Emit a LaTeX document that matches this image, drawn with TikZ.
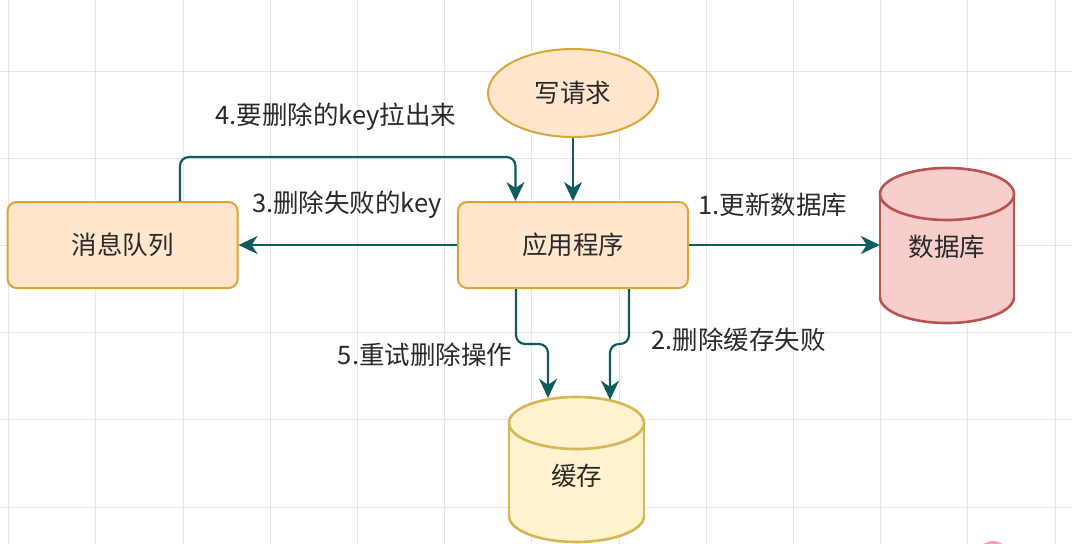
\documentclass[tikz,border=0pt]{standalone}
\usepackage{fontspec}
\setmainfont{Noto Sans CJK SC}
\usetikzlibrary{arrows.meta,calc,shapes.geometric}
\definecolor{boxfill}{HTML}{FFE6CC}
\definecolor{boxline}{HTML}{DCA53A}
\definecolor{cachefill}{HTML}{FFF2CC}
\definecolor{cacheline}{HTML}{D6B656}
\definecolor{dbfill}{HTML}{F8CECC}
\definecolor{dbline}{HTML}{B85450}
\definecolor{arrc}{HTML}{0F5C5E}
\definecolor{gridc}{HTML}{E6E6E6}
\definecolor{txtc}{HTML}{2A2A2A}
\definecolor{pinkc}{HTML}{F5A3A3}
\tikzset{
  every node/.style={font=\fontsize{25.5}{30}\selectfont, text=txtc},
  procbox/.style={draw=boxline, fill=boxfill, line width=2pt, rounded corners=9pt,
    minimum width=230pt, minimum height=86pt, inner sep=0pt},
  reqshape/.style={ellipse, draw=boxline, fill=boxfill, line width=2pt,
    minimum width=170pt, minimum height=88pt, inner sep=0pt},
  cylnode/.style={minimum width=134pt, minimum height=158pt, inner sep=0pt},
  lbl/.style={inner sep=0pt},
  conn/.style={draw=arrc, line width=2.2pt, rounded corners=9pt,
    -{Stealth[length=19pt,width=18pt,inset=6pt]}},
}
\begin{document}
\begin{tikzpicture}[x=1pt,y=-1pt]
\useasboundingbox (0,0) rectangle (1072,544);
\fill[white] (0,0) rectangle (1072,544);
% grid
\foreach \k in {0,...,12}{\draw[gridc,line width=1pt] ({8.6+87.2*\k},0) -- ({8.6+87.2*\k},544);}
\foreach \k in {0,...,5}{\draw[gridc,line width=1pt] (0,{71+87.2*\k}) -- (1072,{71+87.2*\k});}
% pink mark
\fill[pinkc] (993,557) circle (16pt);

% database cylinder
\fill[dbfill] (880,194) rectangle (1014,297);
\fill[dbfill] (947,297) ellipse [x radius=67, y radius=26];
\begin{scope}
  \clip (870,297) rectangle (1024,335);
  \draw[dbline,line width=2.6pt] (947,297) ellipse [x radius=67, y radius=26];
\end{scope}
\draw[dbline,line width=2.6pt] (880,194) -- (880,297) (1014,194) -- (1014,297);
\draw[dbline,line width=2.6pt,fill=dbfill] (947,194) ellipse [x radius=67, y radius=26];

% cache cylinder
\fill[cachefill] (509,423) rectangle (644,516);
\fill[cachefill] (576.5,516) ellipse [x radius=67.5, y radius=26];
\begin{scope}
  \clip (499,516) rectangle (654,560);
  \draw[cacheline,line width=2.6pt] (576.5,516) ellipse [x radius=67.5, y radius=26];
\end{scope}
\draw[cacheline,line width=2.6pt] (509,423) -- (509,516) (644,423) -- (644,516);
\draw[cacheline,line width=2.6pt,fill=cachefill] (576.5,423) ellipse [x radius=67.5, y radius=26];

% nodes
\node[reqshape] (req) at (573,93) {写请求};
\node[procbox] (app) at (573,245) {应用程序};
\node[procbox] (mq) at (122.6,245) {消息队列};
\node[cylnode] (db) at (947,247) {数据库};
\node[cylnode] (cache) at (576.5,476) {缓存};

% connectors
\draw[conn] (req.south) -- (app.north);
\draw[conn] (app.east) -- (app.east -| db.west);
\draw[conn] (app.west) -- (mq.east);
\draw[conn] ($(mq.north)+(57.4,0)$) -- ++(0,-44) -| ($(app.north)+(-57.5,0)$);
\draw[conn] ($(app.south)+(-57,0)$) -- ++(0,55) -| ($(cache.north)+(-28.5,1)$);
\draw[conn] ($(app.south)+(56,0)$) -- ++(0,55) -| ($(cache.north)+(33.5,3)$);

% labels
\node[lbl] (l1) at (773,205) {1.更新数据库};
\node[lbl] (l2) at (738.5,340) {2.删除缓存失败};
\node[lbl] (l3) at (347,205) {3.删除失败的key};
\node[lbl] (l4) at (336,117) {4.要删除的key拉出来};
\node[lbl] (l5) at (425,355) {5.重试删除操作};
\end{tikzpicture}
\end{document}
